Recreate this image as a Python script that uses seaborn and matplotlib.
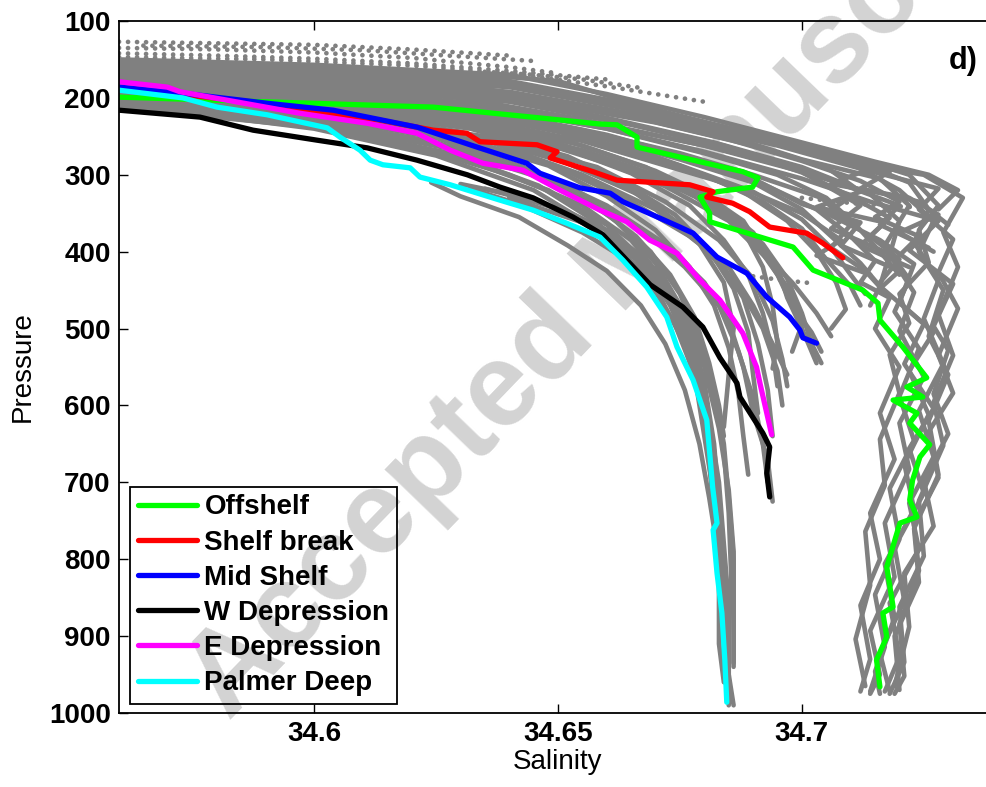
import pandas as pd
import seaborn as sns
import matplotlib.pyplot as plt

# Highlighted profiles, (salinity, pressure)
offshelf = [(34.56, 199), (34.6244, 212), (34.6586, 234), (34.6621, 235), (34.6662, 251),
            (34.6662, 264), (34.6879, 296), (34.691, 304), (34.6899, 316), (34.6826, 322),
            (34.6791, 329), (34.6811, 350), (34.6811, 361), (34.6982, 394), (34.7023, 424),
            (34.7125, 450), (34.7156, 467), (34.716, 489), (34.7207, 524), (34.7256, 564),
            (34.7215, 576), (34.7248, 589), (34.7187, 593), (34.7236, 610), (34.7221, 623),
            (34.7262, 651), (34.7242, 667), (34.7227, 697), (34.7221, 723), (34.7236, 745),
            (34.7201, 753), (34.7174, 810), (34.7187, 862), (34.7166, 870), (34.7174, 901),
            (34.7153, 931), (34.716, 966)]
shelf_break = [(34.56, 187), (34.5869, 205), (34.6135, 229), (34.6244, 242), (34.6313, 246),
               (34.634, 257), (34.6457, 261), (34.6498, 270), (34.6484, 278), (34.6518, 285),
               (34.6572, 296), (34.6621, 307), (34.677, 313), (34.6818, 322), (34.6805, 329),
               (34.6858, 337), (34.6893, 348), (34.6934, 368), (34.701, 376), (34.7043, 389),
               (34.7084, 408)]
mid_shelf = [(34.56, 186), (34.5732, 194), (34.5904, 207), (34.6039, 216), (34.6211, 238),
             (34.6334, 264), (34.6436, 285), (34.6463, 298), (34.6545, 317), (34.6607, 324),
             (34.6633, 335), (34.675, 368), (34.6777, 376), (34.6826, 407), (34.6887, 428),
             (34.6928, 459), (34.6975, 485), (34.6996, 502), (34.7002, 512), (34.703, 519)]
w_depression = [(34.56, 216), (34.5766, 225), (34.5875, 242), (34.6006, 255), (34.6109, 265),
                (34.6211, 281), (34.6314, 300), (34.6381, 316), (34.6449, 330), (34.6531, 355),
                (34.6592, 378), (34.6641, 411), (34.6689, 443), (34.6756, 472), (34.6797, 498),
                (34.6832, 538), (34.6867, 571), (34.6873, 589), (34.692, 636), (34.6934, 654),
                (34.6928, 688), (34.6934, 719)]
e_depression = [(34.56, 179), (34.5699, 186), (34.5725, 192), (34.5971, 220), (34.6109, 233),
                (34.6211, 246), (34.6279, 268), (34.6346, 285), (34.6428, 294), (34.6504, 320),
                (34.6586, 346), (34.6641, 361), (34.6688, 385), (34.6744, 402), (34.6791, 437),
                (34.6832, 463), (34.6879, 506), (34.6907, 550), (34.6914, 571), (34.6928, 610),
                (34.6938, 638)]
palmer_deep = [(34.56, 190), (34.5731, 200), (34.5801, 212), (34.5904, 222), (34.6027, 239),
               (34.6053, 251), (34.6094, 268), (34.6115, 281), (34.6141, 287), (34.6197, 291),
               (34.6217, 303), (34.6279, 313), (34.6381, 333), (34.6449, 346), (34.6518, 363),
               (34.6586, 381), (34.6633, 411), (34.6682, 446), (34.6723, 485), (34.6744, 524),
               (34.6777, 567), (34.6805, 619), (34.6811, 662), (34.6817, 706), (34.6826, 753),
               (34.6818, 762), (34.6826, 818), (34.6836, 870), (34.6842, 931), (34.6846, 986)]

regions = ["Offshelf", "Shelf break", "Mid Shelf", "W Depression", "E Depression", "Palmer Deep"]
region_colors = ["#00ff00", "#ff0000", "#0000ff", "#000000", "#ff00ff", "#00ffff"]

# All other profiles (grey)
offshelf_gray = [
    [(34.56, 153), (34.60, 160), (34.64, 173), (34.65, 178), (34.67, 216), (34.693, 255), (34.71, 285),
     (34.72, 320), (34.727, 360), (34.724, 400), (34.729, 450), (34.726, 510), (34.73, 560),
     (34.726, 620), (34.728, 690), (34.723, 760), (34.724, 830), (34.719, 900), (34.72, 970)],
    [(34.56, 158), (34.60, 166), (34.64, 182), (34.665, 215), (34.69, 252), (34.708, 282), (34.725, 300),
     (34.733, 330), (34.729, 375), (34.732, 420), (34.728, 482), (34.731, 535), (34.727, 596),
     (34.729, 652), (34.724, 724), (34.725, 796), (34.72, 862), (34.721, 934), (34.718, 975)],
    [(34.56, 163), (34.60, 172), (34.635, 188), (34.66, 218), (34.685, 250), (34.70, 280), (34.716, 305),
     (34.722, 340), (34.717, 392), (34.722, 436), (34.719, 478), (34.724, 526), (34.72, 588),
     (34.723, 646), (34.718, 708), (34.72, 774), (34.715, 846), (34.717, 914), (34.714, 972)],
    [(34.56, 168), (34.60, 178), (34.635, 196), (34.66, 226), (34.682, 258), (34.70, 290), (34.712, 320),
     (34.705, 350), (34.716, 385), (34.723, 416), (34.72, 466), (34.727, 505), (34.722, 555),
     (34.726, 612), (34.721, 676), (34.723, 735), (34.717, 806), (34.719, 876), (34.715, 946), (34.716, 975)],
    [(34.56, 172), (34.60, 184), (34.63, 200), (34.655, 228), (34.68, 262), (34.70, 296), (34.712, 340),
     (34.706, 370), (34.718, 403), (34.716, 445), (34.725, 494), (34.721, 546), (34.727, 604),
     (34.722, 656), (34.725, 714), (34.719, 784), (34.721, 854), (34.716, 922), (34.718, 972)],
    [(34.56, 176), (34.60, 188), (34.63, 206), (34.66, 240), (34.68, 270), (34.70, 305), (34.714, 335),
     (34.728, 360), (34.722, 398), (34.731, 442), (34.727, 497), (34.73, 528), (34.727, 585),
     (34.73, 637), (34.725, 697), (34.727, 757), (34.721, 818), (34.722, 888), (34.719, 965)],
    [(34.56, 166), (34.60, 175), (34.64, 192), (34.67, 226), (34.695, 262), (34.712, 292), (34.728, 318),
     (34.724, 345), (34.731, 384), (34.728, 427), (34.732, 474), (34.728, 535), (34.731, 584),
     (34.726, 634), (34.728, 694), (34.723, 755), (34.724, 815), (34.72, 884), (34.721, 952), (34.719, 975)],
    [(34.56, 181), (34.60, 194), (34.63, 212), (34.655, 242), (34.675, 272), (34.69, 300), (34.704, 330),
     (34.71, 365), (34.706, 395), (34.713, 425), (34.718, 460), (34.715, 500), (34.72, 550),
     (34.716, 610), (34.719, 670), (34.714, 740), (34.716, 800), (34.712, 860), (34.714, 930), (34.712, 972)],
    [(34.56, 160), (34.60, 169), (34.64, 185), (34.665, 214), (34.69, 248), (34.71, 276), (34.722, 300),
     (34.728, 340), (34.724, 372), (34.726, 414), (34.72, 455), (34.722, 493), (34.718, 534),
     (34.72, 584), (34.716, 644), (34.717, 704), (34.713, 764), (34.714, 834), (34.711, 904), (34.713, 965)],
    [(34.56, 156), (34.60, 163), (34.64, 178), (34.668, 212), (34.692, 250), (34.71, 280), (34.722, 310),
     (34.726, 345), (34.723, 388), (34.728, 437), (34.725, 487), (34.729, 546), (34.724, 607),
     (34.727, 667), (34.722, 727), (34.724, 787), (34.718, 857), (34.72, 927), (34.717, 972)],
    [(34.56, 170), (34.60, 181), (34.636, 199), (34.662, 230), (34.684, 262), (34.70, 293), (34.714, 325),
     (34.72, 360), (34.718, 404), (34.723, 453), (34.72, 503), (34.725, 563), (34.72, 623),
     (34.722, 683), (34.717, 753), (34.719, 823), (34.714, 893), (34.716, 950), (34.714, 975)],
]
shelfbreak_gray = [
    [(34.56, 150), (34.60, 157), (34.64, 170), (34.66, 195), (34.68, 225), (34.70, 258), (34.715, 283),
     (34.726, 300), (34.732, 320), (34.728, 345)],
    [(34.56, 156), (34.60, 164), (34.64, 180), (34.665, 210), (34.685, 240), (34.70, 268), (34.714, 292),
     (34.706, 312), (34.722, 330), (34.728, 352), (34.72, 375), (34.727, 400)],
    [(34.56, 185), (34.60, 198), (34.63, 215), (34.655, 245), (34.675, 278), (34.69, 305), (34.70, 338),
     (34.712, 362), (34.708, 392), (34.72, 425), (34.716, 448)],
    [(34.56, 190), (34.60, 205), (34.63, 224), (34.655, 256), (34.672, 288), (34.688, 318), (34.70, 350),
     (34.708, 385), (34.703, 405), (34.714, 430)],
    [(34.56, 170), (34.60, 180), (34.64, 198), (34.67, 232), (34.69, 262), (34.705, 290), (34.712, 322),
     (34.703, 342), (34.717, 362), (34.712, 392), (34.722, 420)],
    [(34.56, 178), (34.60, 190), (34.635, 208), (34.66, 236), (34.68, 262), (34.695, 285), (34.708, 312),
     (34.72, 340), (34.716, 365), (34.726, 395)],
    [(34.56, 162), (34.60, 171), (34.64, 186), (34.67, 221), (34.69, 245), (34.705, 272), (34.718, 296),
     (34.712, 318), (34.724, 335), (34.73, 365)],
    [(34.56, 165), (34.60, 176), (34.64, 194), (34.665, 224), (34.685, 254), (34.70, 282), (34.712, 308),
     (34.72, 335), (34.715, 355), (34.724, 380), (34.72, 405)],
    [(34.56, 172), (34.60, 185), (34.64, 205), (34.665, 235), (34.685, 265), (34.70, 297), (34.71, 328),
     (34.718, 356), (34.714, 380), (34.72, 410), (34.716, 440)],
    [(34.56, 176), (34.60, 192), (34.635, 215), (34.66, 248), (34.678, 280), (34.692, 312), (34.703, 345),
     (34.71, 380), (34.715, 412), (34.712, 440), (34.718, 460)],
    [(34.56, 180), (34.60, 196), (34.64, 222), (34.66, 254), (34.676, 290), (34.69, 322), (34.70, 358),
     (34.706, 395), (34.71, 430), (34.713, 455)],
]
midshelf_gray = [
    [(34.56, 178), (34.60, 195), (34.62, 210), (34.64, 240), (34.66, 280), (34.675, 318), (34.685, 350),
     (34.69, 385), (34.695, 430), (34.698, 470), (34.702, 505), (34.704, 530)],
    [(34.56, 188), (34.60, 205), (34.63, 232), (34.65, 265), (34.67, 305), (34.683, 340), (34.69, 375),
     (34.695, 420), (34.697, 460), (34.70, 500), (34.703, 545)],
    [(34.56, 170), (34.60, 185), (34.625, 205), (34.645, 235), (34.665, 270), (34.68, 300), (34.692, 335),
     (34.70, 370), (34.705, 410), (34.71, 445), (34.712, 470)],
    [(34.56, 182), (34.60, 200), (34.63, 225), (34.655, 262), (34.67, 295), (34.68, 325), (34.688, 360),
     (34.692, 400), (34.698, 440), (34.703, 480), (34.706, 510)],
    [(34.56, 175), (34.60, 190), (34.63, 212), (34.655, 245), (34.675, 280), (34.69, 310), (34.70, 345),
     (34.706, 380), (34.712, 415), (34.716, 445), (34.714, 470)],
    [(34.56, 184), (34.60, 198), (34.63, 222), (34.65, 252), (34.668, 290), (34.68, 330), (34.688, 372),
     (34.692, 420), (34.694, 470), (34.695, 520), (34.694, 552)],
    [(34.56, 190), (34.60, 208), (34.63, 234), (34.655, 268), (34.672, 305), (34.684, 345), (34.692, 390),
     (34.697, 435), (34.70, 480), (34.702, 520), (34.704, 545)],
    [(34.56, 180), (34.60, 197), (34.63, 220), (34.655, 250), (34.675, 288), (34.688, 322), (34.697, 360),
     (34.703, 400), (34.707, 440), (34.709, 475), (34.706, 500)],
    [(34.56, 174), (34.60, 188), (34.635, 210), (34.66, 240), (34.68, 272), (34.695, 300), (34.705, 330),
     (34.711, 365), (34.716, 400), (34.72, 430)],
    [(34.56, 185), (34.60, 200), (34.625, 222), (34.648, 255), (34.665, 290), (34.678, 328), (34.687, 368),
     (34.693, 410), (34.698, 455), (34.70, 495), (34.698, 530)],
]
depression_gray = [
    [(34.56, 195), (34.60, 215), (34.63, 245), (34.65, 280), (34.665, 320), (34.675, 365), (34.683, 410),
     (34.688, 460), (34.691, 520), (34.693, 580), (34.694, 640)],
    [(34.56, 205), (34.60, 228), (34.625, 258), (34.645, 295), (34.66, 340), (34.672, 390), (34.68, 440),
     (34.685, 490), (34.688, 550), (34.69, 610), (34.693, 670), (34.694, 725)],
    [(34.56, 200), (34.60, 222), (34.63, 252), (34.65, 290), (34.665, 335), (34.677, 380), (34.685, 420),
     (34.69, 470), (34.694, 520), (34.697, 560)],
    [(34.56, 210), (34.59, 225), (34.62, 252), (34.64, 285), (34.655, 325), (34.667, 370), (34.676, 420),
     (34.683, 470), (34.687, 530), (34.69, 590), (34.692, 650), (34.693, 700)],
    [(34.56, 198), (34.60, 218), (34.635, 255), (34.655, 300), (34.67, 345), (34.68, 395), (34.687, 445),
     (34.692, 500), (34.695, 555), (34.696, 600)],
    [(34.56, 192), (34.60, 210), (34.63, 236), (34.655, 272), (34.672, 315), (34.685, 360), (34.693, 410),
     (34.698, 460), (34.70, 500)],
    [(34.56, 196), (34.60, 214), (34.63, 244), (34.652, 285), (34.668, 330), (34.678, 380), (34.684, 440),
     (34.686, 500), (34.685, 560), (34.684, 628)],
    [(34.56, 186), (34.60, 204), (34.63, 230), (34.65, 262), (34.665, 298), (34.677, 340), (34.684, 385),
     (34.689, 430), (34.692, 480), (34.694, 530), (34.695, 575)],
    [(34.56, 194), (34.60, 212), (34.632, 240), (34.652, 276), (34.664, 312), (34.674, 352), (34.681, 398),
     (34.686, 448), (34.689, 505), (34.69, 560), (34.691, 610)],
    [(34.56, 200), (34.60, 220), (34.628, 250), (34.648, 288), (34.66, 328), (34.67, 372), (34.677, 420),
     (34.682, 470), (34.685, 525), (34.687, 585), (34.688, 640), (34.689, 690)],
    [(34.56, 203), (34.60, 224), (34.625, 252), (34.643, 290), (34.656, 333), (34.666, 380), (34.673, 430),
     (34.678, 485), (34.681, 545), (34.683, 600), (34.684, 640)],
    [(34.56, 198), (34.60, 219), (34.635, 250), (34.658, 290), (34.672, 335), (34.683, 385), (34.69, 435),
     (34.694, 490), (34.696, 540), (34.697, 575)],
]
palmer_gray = [
    [(34.56, 212), (34.58, 218), (34.60, 235), (34.62, 262), (34.64, 300), (34.655, 340), (34.665, 385),
     (34.672, 440), (34.677, 500), (34.68, 570), (34.682, 650), (34.683, 730), (34.684, 810),
     (34.685, 890), (34.685, 960)],
    [(34.624, 310), (34.63, 328), (34.642, 355), (34.652, 392), (34.66, 425), (34.667, 470), (34.672, 520),
     (34.676, 580), (34.679, 650), (34.681, 720), (34.683, 800), (34.684, 880), (34.685, 950), (34.686, 990)],
    [(34.63, 312), (34.64, 325), (34.652, 348), (34.66, 372), (34.667, 405), (34.673, 450), (34.677, 510),
     (34.68, 580), (34.682, 660), (34.683, 740), (34.684, 820), (34.685, 900), (34.685, 970)],
    [(34.56, 205), (34.60, 230), (34.63, 268), (34.65, 310), (34.662, 360), (34.67, 415), (34.676, 480),
     (34.68, 550), (34.683, 630), (34.685, 710), (34.686, 790), (34.686, 870), (34.686, 940)],
    [(34.56, 208), (34.60, 240), (34.625, 275), (34.645, 320), (34.658, 370), (34.668, 430), (34.674, 495),
     (34.678, 560), (34.68, 640), (34.682, 720), (34.683, 800), (34.684, 880), (34.684, 930)],
    [(34.64, 330), (34.655, 362), (34.665, 400), (34.672, 450), (34.678, 510), (34.682, 580), (34.684, 660),
     (34.685, 740), (34.6855, 820), (34.685, 900), (34.6845, 960)],
    [(34.56, 213), (34.60, 238), (34.63, 278), (34.648, 320), (34.66, 365), (34.668, 415), (34.674, 470),
     (34.678, 540), (34.681, 620), (34.683, 700), (34.684, 780), (34.685, 860), (34.685, 940), (34.685, 990)],
    [(34.632, 318), (34.642, 338), (34.655, 375), (34.664, 410), (34.671, 460), (34.676, 520),
     (34.679, 590), (34.681, 670), (34.682, 750), (34.683, 830), (34.683, 910), (34.684, 960)],
    [(34.56, 207), (34.60, 232), (34.627, 265), (34.647, 305), (34.66, 350), (34.669, 400), (34.675, 455),
     (34.679, 515), (34.682, 580), (34.684, 650), (34.685, 720), (34.686, 800), (34.686, 880), (34.686, 935)],
    [(34.635, 318), (34.648, 340), (34.658, 372), (34.666, 410), (34.672, 455), (34.676, 505), (34.679, 565),
     (34.681, 630), (34.682, 700), (34.683, 780), (34.684, 860), (34.684, 940), (34.685, 985)],
    [(34.56, 210), (34.60, 236), (34.628, 272), (34.646, 314), (34.658, 362), (34.667, 415), (34.673, 470),
     (34.677, 530), (34.68, 600), (34.682, 680), (34.683, 760), (34.684, 840), (34.6845, 920), (34.685, 975)],
]
dotted_gray = [
    [(34.56, 127), (34.58, 129), (34.60, 131), (34.62, 137), (34.64, 145)],
    [(34.565, 132), (34.59, 134), (34.61, 138), (34.63, 146), (34.645, 152)],
    [(34.56, 135), (34.58, 137), (34.60, 141), (34.62, 148), (34.64, 160), (34.65, 168)],
    [(34.56, 142), (34.58, 145), (34.60, 149), (34.62, 155), (34.64, 165), (34.66, 176)],
    [(34.56, 147), (34.59, 150), (34.62, 158), (34.64, 168), (34.66, 185), (34.68, 205)],
    [(34.635, 166), (34.645, 170), (34.655, 176), (34.668, 188)],
    [(34.70, 330), (34.712, 338), (34.725, 343)],
    [(34.69, 432), (34.696, 437), (34.702, 441)],
]

x_ticks = [34.6, 34.65, 34.7]
x_ticklabels = ["34.6", "34.65", "34.7"]
y_ticks = [100, 200, 300, 400, 500, 600, 700, 800, 900, 1000]


def to_frame(profiles):
    rows = []
    for i, prof in enumerate(profiles):
        for s, p in prof:
            rows.append({"profile": i, "salinity": s, "pressure": p})
    return pd.DataFrame(rows)


gray_df = to_frame(offshelf_gray + shelfbreak_gray + midshelf_gray + depression_gray + palmer_gray)
dots_df = to_frame(dotted_gray)

rows = []
for name, prof in zip(regions, [offshelf, shelf_break, mid_shelf, w_depression, e_depression, palmer_deep]):
    for s, p in prof:
        rows.append({"region": name, "salinity": s, "pressure": p})
color_df = pd.DataFrame(rows)

sns.set_style("ticks")
plt.rcParams["font.family"] = ["Liberation Sans", "DejaVu Sans"]
plt.rcParams["text.color"] = "black"
plt.rcParams["axes.labelcolor"] = "black"

fig = plt.figure(figsize=(9.87, 7.87), dpi=100)
ax = fig.add_axes([119 / 987, 74 / 787, 878 / 987, 692 / 787])

# watermark
ax.text(0.630, 0.655, "Accepted Manuscript", transform=fig.transFigure, rotation=46,
        rotation_mode="anchor", ha="center", va="center", fontsize=85, fontweight="bold",
        color="#d3d3d3", zorder=0.5, clip_on=False)

sns.lineplot(data=gray_df, x="salinity", y="pressure", units="profile", estimator=None, sort=False,
             color="#808080", linewidth=3.3, solid_joinstyle="round", solid_capstyle="round", ax=ax)
sns.lineplot(data=dots_df, x="salinity", y="pressure", units="profile", estimator=None, sort=False,
             color="#808080", linewidth=3.4, linestyle=(0, (0.01, 1.9)), dash_capstyle="round", ax=ax)
sns.lineplot(data=color_df, x="salinity", y="pressure", hue="region", hue_order=regions,
             palette=dict(zip(regions, region_colors)), estimator=None, sort=False,
             linewidth=3.8, solid_joinstyle="round", solid_capstyle="round", ax=ax)

ax.set_xlim(34.56, 34.74)
ax.set_ylim(1000, 100)
ax.set_xticks(x_ticks)
ax.set_xticklabels(x_ticklabels)
ax.set_yticks(y_ticks)
ax.tick_params(direction="in", length=6.5, width=1, top=True, right=True, pad=6,
               labelsize=20, colors="black")
for lab in ax.get_xticklabels() + ax.get_yticklabels():
    lab.set_fontweight("bold")
for sp in ax.spines.values():
    sp.set_linewidth(1.3)
    sp.set_color("black")

ax.set_xlabel("Salinity", fontsize=20, color="black")
ax.set_ylabel("Pressure", fontsize=20, color="black")
ax.xaxis.set_label_coords(0.5, -0.052)
ax.yaxis.set_label_coords(-0.095, 0.5)

ax.text(0.962, 0.942, "d)", transform=ax.transAxes, fontsize=22, fontweight="bold",
        ha="center", va="center", color="black")

handles, labels = ax.get_legend_handles_labels()
leg = ax.legend(handles, labels, loc="lower left", bbox_to_anchor=(0.0125, 0.013), borderaxespad=0,
                fancybox=False, edgecolor="black", facecolor="none", framealpha=1,
                prop={"size": 20, "weight": "bold"}, handlelength=2.15, handletextpad=0.25,
                labelspacing=0.33, borderpad=0.28)
leg.get_frame().set_linewidth(1.3)
for line in leg.get_lines():
    line.set_linewidth(3.8)
for t in leg.get_texts():
    t.set_color("black")

fig.savefig("out.png", dpi=100)
